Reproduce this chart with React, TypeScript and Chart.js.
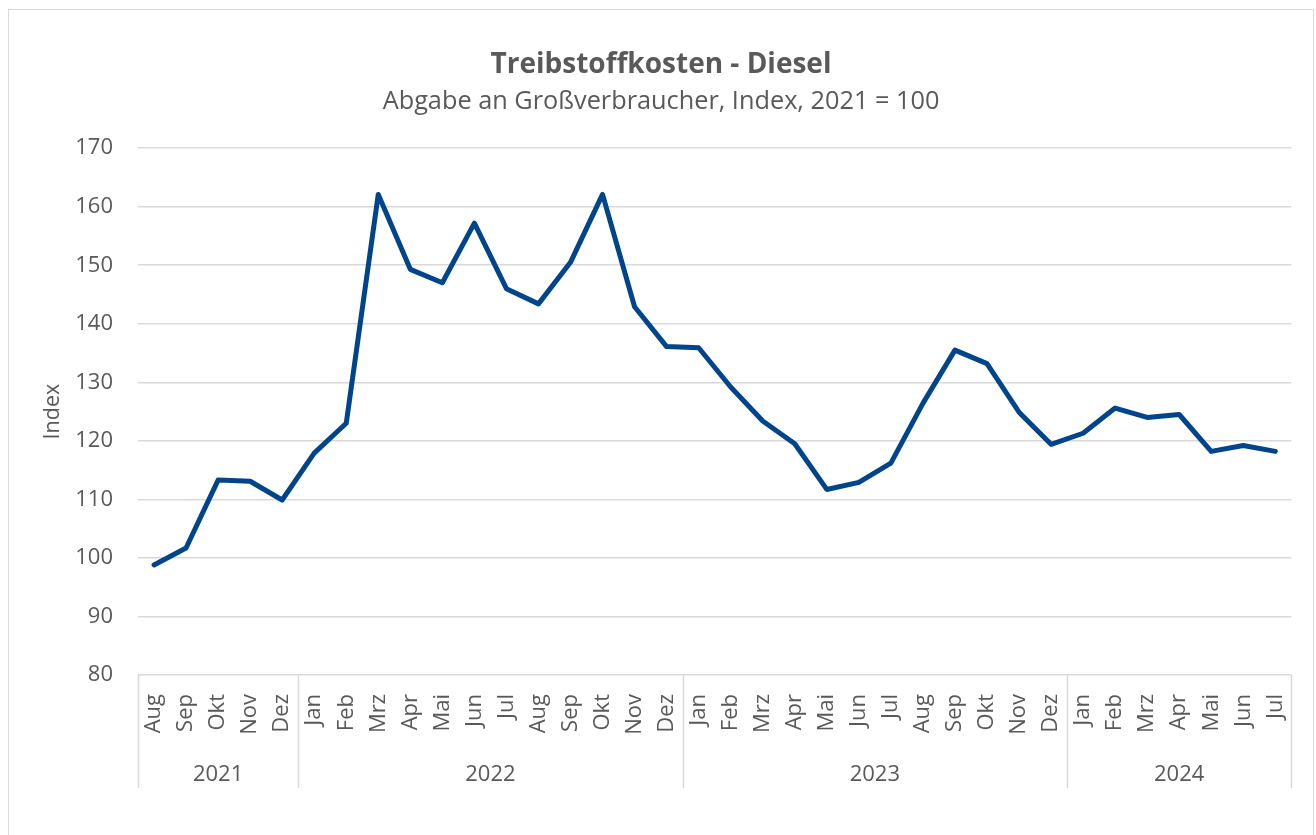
import React, { useEffect, useRef } from "react";
import { Chart, registerables } from "chart.js";

Chart.register(...registerables);

const months = [
  "Aug", "Sep", "Okt", "Nov", "Dez",
  "Jan", "Feb", "Mrz", "Apr", "Mai", "Jun", "Jul", "Aug", "Sep", "Okt", "Nov", "Dez",
  "Jan", "Feb", "Mrz", "Apr", "Mai", "Jun", "Jul", "Aug", "Sep", "Okt", "Nov", "Dez",
  "Jan", "Feb", "Mrz", "Apr", "Mai", "Jun", "Jul",
];

const yearLabels = ["2021", "2022", "2023", "2024"];
const yearMonthCounts = [5, 12, 12, 7];

const dieselIndex = [
  98.8, 101.7, 113.3, 113.1, 109.9,
  117.9, 123.0, 162.1, 149.3, 147.0, 157.2, 146.0, 143.4, 150.5, 162.1, 142.9, 136.1,
  135.9, 129.2, 123.4, 119.5, 111.7, 112.9, 116.2, 126.4, 135.5, 133.2, 124.9, 119.4,
  121.3, 125.6, 124.0, 124.5, 118.2, 119.2, 118.2,
];

const yTicks = [80, 90, 100, 110, 120, 130, 140, 150, 160, 170];

const TEXT = "#595959";
const GRID = "#d9d9d9";
const FONT = "'Open Sans', 'Noto Sans', sans-serif";

const yearGroupPlugin = {
  id: "yearGroups",
  afterDraw(chart: any) {
    const ctx = chart.ctx;
    const x = chart.scales.x;
    const area = chart.chartArea;
    const top = area.bottom;
    const bottom = area.bottom + 113;
    const n = months.length;
    const boundary = (i: number) => {
      if (i <= 0) return area.left;
      if (i >= n) return area.right;
      return (x.getPixelForValue(i - 1) + x.getPixelForValue(i)) / 2;
    };
    ctx.save();
    ctx.strokeStyle = GRID;
    ctx.lineWidth = 1.5;
    let start = 0;
    const edges: number[] = [0];
    yearMonthCounts.forEach((c) => {
      start += c;
      edges.push(start);
    });
    edges.forEach((e) => {
      const px = Math.round(boundary(e)) + 0.5;
      ctx.beginPath();
      ctx.moveTo(px, top);
      ctx.lineTo(px, bottom);
      ctx.stroke();
    });
    ctx.fillStyle = TEXT;
    ctx.font = `22px ${FONT}`;
    ctx.textAlign = "center";
    ctx.textBaseline = "middle";
    yearLabels.forEach((label, k) => {
      const cx = (boundary(edges[k]) + boundary(edges[k + 1])) / 2;
      ctx.fillText(label, cx, area.bottom + 100);
    });
    ctx.restore();
  },
};

export default function App() {
  const ref = useRef<HTMLCanvasElement | null>(null);

  useEffect(() => {
    if (!ref.current) return;
    const chart = new Chart(ref.current, {
      type: "line",
      data: {
        labels: months,
        datasets: [
          {
            label: "Diesel",
            data: dieselIndex,
            borderColor: "#00448b",
            backgroundColor: "#00448b",
            borderWidth: 5,
            pointRadius: 0,
            pointHoverRadius: 0,
            tension: 0,
            borderJoinStyle: "round",
            borderCapStyle: "round",
          },
        ],
      },
      options: {
        animation: false,
        responsive: false,
        devicePixelRatio: 1,
        layout: { padding: { top: 0, right: 0, bottom: 0, left: 0 } },
        plugins: {
          legend: { display: false },
          tooltip: { enabled: false },
          title: {
            display: true,
            text: "Treibstoffkosten - Diesel",
            color: TEXT,
            font: { family: FONT, size: 28, weight: "bold", lineHeight: 1.2 },
            padding: { top: 38.5, bottom: 0 },
          },
          subtitle: {
            display: true,
            text: "Abgabe an Großverbraucher, Index, 2021 = 100",
            color: TEXT,
            font: { family: FONT, size: 25.3, weight: "normal", lineHeight: 1.2 },
            padding: { top: 4.2, bottom: 31.5 },
          },
        },
        scales: {
          x: {
            type: "category",
            offset: true,
            grid: { display: false },
            border: { display: false },
            ticks: {
              color: TEXT,
              font: { family: FONT, size: 22 },
              minRotation: 90,
              maxRotation: 90,
              autoSkip: false,
              padding: 11,
            },
            afterFit(scale: any) {
              scale.height = 161;
            },
          },
          y: {
            min: 80,
            max: 170,
            afterBuildTicks(scale: any) {
              scale.ticks = yTicks.map((v) => ({ value: v }));
            },
            grid: { color: GRID, lineWidth: 1.5, drawTicks: false },
            border: { display: false },
            ticks: {
              color: TEXT,
              font: { family: FONT, size: 22 },
              padding: 25,
            },
            title: {
              display: true,
              text: "Index",
              color: TEXT,
              font: { family: FONT, size: 21.5 },
              padding: { top: 31, bottom: 0 },
            },
            afterFit(scale: any) {
              scale.width = 129;
            },
          },
          rightSpace: {
            type: "linear",
            position: "right",
            min: 80,
            max: 170,
            grid: { display: false, drawTicks: false },
            border: { display: false },
            ticks: { display: false },
            afterFit(scale: any) {
              scale.width = 21;
            },
          },
        },
      },
      plugins: [yearGroupPlugin],
    });
    return () => chart.destroy();
  }, []);

  return (
    <div
      style={{
        position: "absolute",
        left: 8,
        top: 9,
        width: 1304,
        height: 840,
        border: "1.5px solid #d9d9d9",
        background: "#fff",
        overflow: "hidden",
      }}
    >
      <canvas ref={ref} width={1304} height={826} style={{ display: "block" }} />
    </div>
  );
}
